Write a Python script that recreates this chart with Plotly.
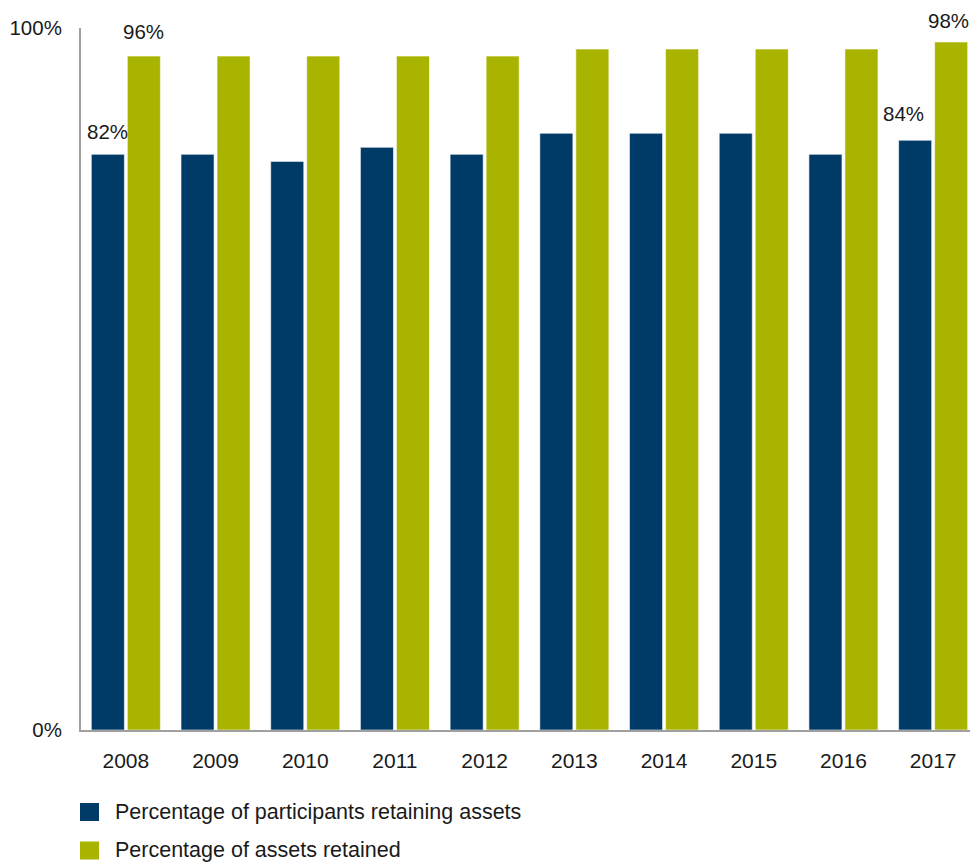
import plotly.graph_objects as go

years = ["2008", "2009", "2010", "2011", "2012", "2013", "2014", "2015", "2016", "2017"]
participants_pct = [82, 82, 81, 83, 82, 85, 85, 85, 82, 84]
assets_pct = [96, 96, 96, 96, 96, 97, 97, 97, 97, 98]
series_names = ["Percentage of participants retaining assets", "Percentage of assets retained"]
series_colors = ["#003B67", "#A9B400"]
y_tick_vals = [0, 100]
y_tick_text = ["0%", "100%"]

W, H = 970, 863
L, R, T, B = 81, 0, 28, 133
plot_w = W - L - R
plot_h = H - T - B

FONT = "Liberation Sans, Arial, sans-serif"
TXT = "#1a1a1a"

fig = go.Figure()
for vals, name, color in zip([participants_pct, assets_pct], series_names, series_colors):
    fig.add_trace(go.Bar(
        x=list(range(len(years))), y=vals, name=name,
        marker=dict(color=color, line=dict(color="rgba(255,255,255,0.55)", width=1)),
        showlegend=False, hoverinfo="x+y",
    ))

# value callouts: (series index, year index, x pixel shift, y pixel shift)
callouts = [(0, 0, 0, 23), (1, 0, 0, 25), (0, 9, -12, 27), (1, 9, -3, 22)]
annotations = []
for s, i, dx, dy in callouts:
    vals = [participants_pct, assets_pct][s]
    offset = -0.2 if s == 0 else 0.2
    annotations.append(dict(
        x=i + offset, y=vals[i], xref="x", yref="y", text=f"{vals[i]}%",
        showarrow=False, xanchor="center", yanchor="middle",
        xshift=dx, yshift=dy, font=dict(family=FONT, size=20.5, color=TXT),
    ))

# legend drawn as swatches and labels below the plot
shapes = []
for k, (name, color) in enumerate(zip(series_names, series_colors)):
    top_px = 803 + k * 38.5
    shapes.append(dict(
        type="rect", xref="paper", yref="paper",
        x0=(80 - L) / plot_w, x1=(99 - L) / plot_w,
        y0=(H - B - (top_px + 18)) / plot_h, y1=(H - B - top_px) / plot_h,
        fillcolor=color, line=dict(width=0),
    ))
    annotations.append(dict(
        x=(113 - L) / plot_w, y=(H - B - (top_px + 9)) / plot_h,
        xref="paper", yref="paper", text=name, showarrow=False,
        xanchor="left", yanchor="middle",
        font=dict(family=FONT, size=21.5, color=TXT),
    ))

fig.update_layout(
    width=W, height=H,
    margin=dict(l=L, r=R, t=T, b=B, pad=0),
    paper_bgcolor="white", plot_bgcolor="white",
    barmode="group", bargap=0.197, bargroupgap=0.083,
    font=dict(family=FONT, size=20, color=TXT),
    annotations=annotations, shapes=shapes,
    xaxis=dict(
        range=[-0.5, -0.5 + plot_w / 89.7],
        tickmode="array", tickvals=list(range(len(years))), ticktext=years,
        showline=True, linecolor="#A0A0A0", linewidth=2,
        showgrid=False, zeroline=False, ticks="", ticklabelstandoff=11,
        tickfont=dict(family=FONT, size=21, color=TXT),
    ),
    yaxis=dict(
        range=[0, 100], tickvals=y_tick_vals, ticktext=y_tick_text,
        showline=True, linecolor="#A0A0A0", linewidth=2,
        showgrid=False, zeroline=False, ticks="", ticklabelstandoff=13,
        tickfont=dict(family=FONT, size=20.5, color=TXT),
    ),
)

fig.write_html("out.html")
